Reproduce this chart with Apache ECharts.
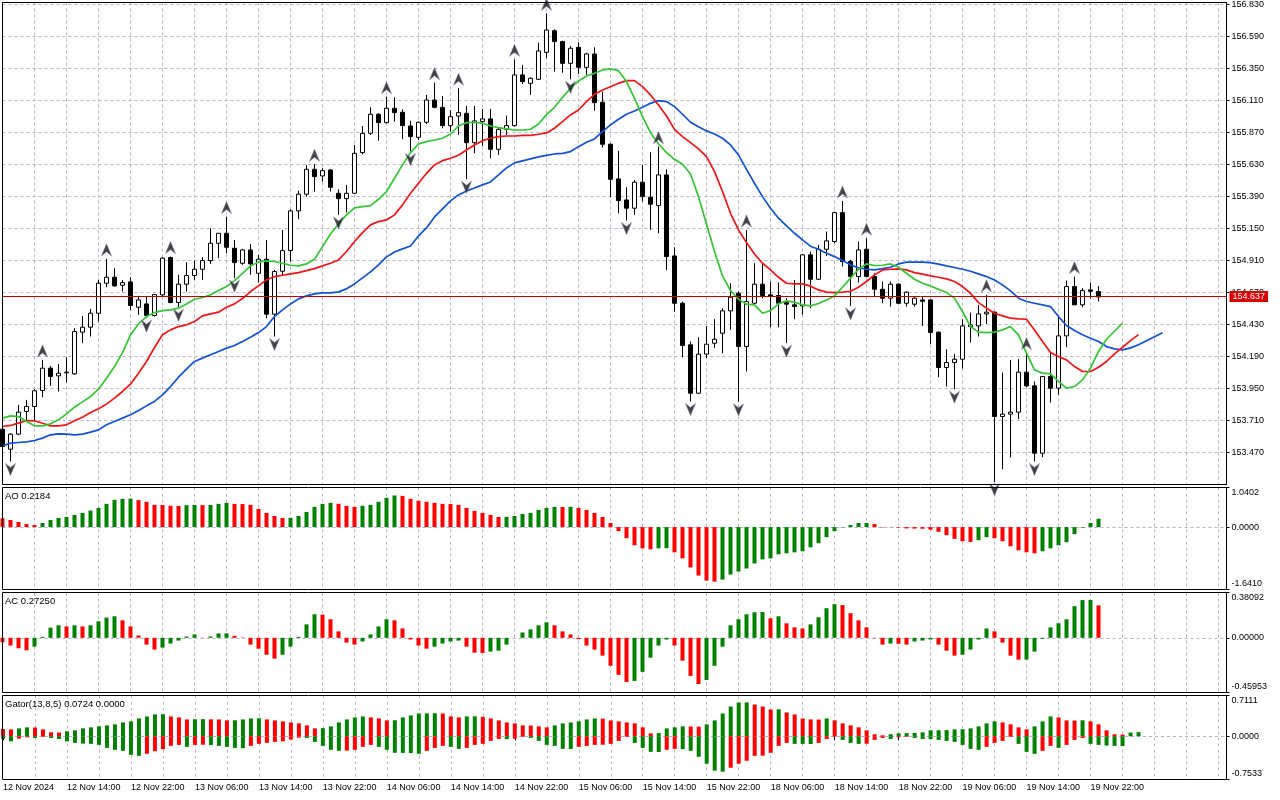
<!DOCTYPE html>
<html><head><meta charset="utf-8">
<script src="https://cdn.jsdelivr.net/npm/echarts@6/dist/echarts.min.js"></script>
<style>html,body{margin:0;padding:0;background:#fff}#chart{width:1280px;height:800px}</style>
</head><body><div id="chart"></div>
<script>
// ---------- DATA ----------
const timeLabels = ['12 Nov 2024','12 Nov 14:00','12 Nov 22:00','13 Nov 06:00','13 Nov 14:00','13 Nov 22:00','14 Nov 06:00','14 Nov 14:00','14 Nov 22:00','15 Nov 06:00','15 Nov 14:00','15 Nov 22:00','18 Nov 06:00','18 Nov 14:00','18 Nov 22:00','19 Nov 06:00','19 Nov 14:00','19 Nov 22:00'];
const slotCount = 154; // H1 bars incl. empty space on the right

const open = [153.645,153.495,153.608,153.778,153.815,153.935,154.103,154.045,154.068,154.060,
154.373,154.410,154.515,154.740,154.785,154.725,154.750,154.560,154.585,154.498,
154.653,154.933,154.595,154.733,154.798,154.845,154.910,155.040,155.115,155.003,
154.890,154.990,154.815,154.920,154.508,154.830,154.985,155.283,155.408,155.595,
155.545,155.590,155.415,155.375,155.415,155.720,155.865,156.008,155.945,156.053,
156.023,155.920,155.835,155.948,156.115,156.060,155.923,155.995,156.015,155.795,
155.953,155.973,155.745,155.895,155.923,156.303,156.240,156.270,156.473,156.635,
156.553,156.390,156.510,156.360,156.460,156.098,155.783,155.523,155.365,155.303,
155.498,155.385,155.323,155.553,154.945,154.590,154.278,153.915,154.208,154.290,
154.365,154.533,154.665,154.265,154.590,154.733,154.653,154.648,154.595,154.578,
154.570,154.953,154.770,154.995,155.053,155.270,154.903,154.790,154.995,154.790,
154.695,154.628,154.733,154.590,154.583,154.615,154.615,154.373,154.108,154.145,
154.170,154.415,154.420,154.510,154.523,153.740,153.758,153.773,154.073,153.970,
153.465,154.040,153.953,154.345,154.715,154.578,154.690,154.678];
const high = [153.670,153.615,153.828,153.865,153.945,154.165,154.120,154.135,154.185,154.403,
154.495,154.548,154.765,154.923,154.853,154.765,154.785,154.640,154.645,154.658,
154.935,154.940,154.803,154.898,154.910,154.935,155.153,155.115,155.240,155.065,
154.998,155.035,154.953,155.065,154.840,155.140,155.295,155.435,155.628,155.633,
155.603,155.595,155.445,155.478,155.778,155.920,156.060,156.015,156.140,156.135,
156.045,155.960,155.953,156.153,156.245,156.145,156.040,156.203,156.070,156.070,
156.048,156.048,155.903,155.998,156.420,156.378,156.285,156.545,156.765,156.645,
156.560,156.520,156.548,156.470,156.510,156.178,155.790,155.733,155.460,155.515,
155.628,155.723,155.765,155.595,155.010,154.603,154.303,154.335,154.420,154.470,
154.553,154.740,154.678,155.140,154.890,154.890,154.753,154.745,154.628,154.765,
154.960,154.978,155.028,155.128,155.278,155.358,154.915,155.053,155.078,154.815,
154.753,154.753,154.740,154.678,154.635,154.640,154.620,154.378,154.245,154.210,
154.470,154.520,154.578,154.653,154.528,154.070,154.165,154.170,154.220,154.003,
154.045,154.220,154.495,154.760,154.790,154.703,154.745,154.720];
const low = [153.500,153.403,153.600,153.710,153.715,153.885,153.970,153.928,153.995,154.053,
154.290,154.340,154.453,154.710,154.715,154.678,154.540,154.503,154.478,154.490,
154.645,154.590,154.560,154.678,154.765,154.765,154.885,154.928,154.965,154.778,
154.878,154.803,154.745,154.478,154.340,154.800,154.903,155.220,155.390,155.428,
155.503,155.428,155.253,155.270,155.410,155.708,155.853,155.810,155.940,155.953,
155.820,155.728,155.815,155.935,156.053,155.903,155.878,155.853,155.520,155.715,
155.770,155.678,155.703,155.853,155.915,156.235,156.153,156.265,156.428,156.328,
156.320,156.270,156.310,156.303,156.035,155.758,155.385,155.265,155.210,155.253,
155.353,155.140,155.115,154.840,154.528,154.185,153.853,153.910,154.178,154.253,
154.215,154.390,153.850,154.078,154.585,154.628,154.410,154.410,154.290,154.470,
154.503,154.553,154.765,154.945,155.040,154.865,154.570,154.745,154.785,154.640,
154.590,154.565,154.585,154.565,154.565,154.420,154.285,154.035,153.965,153.945,
154.100,154.295,154.340,154.435,153.250,153.345,153.433,153.720,153.960,153.403,
153.435,153.845,153.903,154.260,154.578,154.560,154.628,154.603];
const close = [153.515,153.608,153.773,153.815,153.933,154.103,154.040,154.065,154.073,154.378,
154.410,154.515,154.740,154.785,154.720,154.745,154.573,154.615,154.498,154.655,
154.928,154.595,154.733,154.798,154.845,154.910,155.040,155.115,155.010,154.895,
154.990,154.885,154.920,154.508,154.828,154.985,155.283,155.408,155.595,155.540,
155.585,155.460,155.375,155.415,155.715,155.865,156.008,155.945,156.053,156.020,
155.923,155.840,155.948,156.115,156.060,155.923,155.990,156.020,155.795,155.958,
155.973,155.745,155.895,155.923,156.303,156.253,156.278,156.483,156.640,156.553,
156.390,156.503,156.360,156.460,156.095,155.783,155.520,155.360,155.303,155.498,
155.390,155.333,155.553,154.940,154.590,154.273,153.915,154.208,154.283,154.320,
154.533,154.635,154.265,154.603,154.733,154.648,154.640,154.590,154.583,154.565,
154.953,154.770,154.995,155.058,155.270,154.903,154.790,154.990,154.790,154.695,
154.628,154.733,154.590,154.673,154.628,154.605,154.370,154.108,154.145,154.170,
154.420,154.428,154.510,154.523,153.740,153.758,153.773,154.073,153.970,153.465,
154.040,153.953,154.345,154.715,154.578,154.685,154.680,154.637];

const upFractals = [5,13,21,28,39,48,54,57,64,68,82,93,105,108,123,128,134];
const downFractals = [1,18,22,29,34,42,51,58,71,78,86,92,98,106,119,124,129];

// Alligator lines as drawn (already shifted forward 8 / 5 / 3 bars)
const jaw = [153.520,153.540,153.545,153.550,153.560,153.578,153.603,153.610,153.608,153.603,
153.608,153.623,153.640,153.678,153.703,153.728,153.753,153.785,153.820,153.853,
153.903,153.965,154.035,154.095,154.153,154.178,154.203,154.228,154.253,154.273,
154.303,154.335,154.370,154.415,154.490,154.540,154.585,154.623,154.645,154.660,
154.668,154.668,154.675,154.698,154.735,154.780,154.825,154.878,154.938,154.975,
154.998,155.020,155.095,155.155,155.238,155.298,155.358,155.403,155.433,155.455,
155.478,155.500,155.553,155.605,155.643,155.658,155.673,155.688,155.700,155.710,
155.715,155.728,155.765,155.798,155.823,155.878,155.928,155.970,156.008,156.033,
156.060,156.090,156.110,156.103,156.065,156.008,155.948,155.915,155.883,155.860,
155.828,155.778,155.703,155.595,155.490,155.390,155.303,155.228,155.170,155.115,
155.065,155.018,154.995,154.965,154.940,154.910,154.878,154.855,154.845,154.840,
154.850,154.860,154.885,154.898,154.898,154.898,154.895,154.883,154.870,154.858,
154.845,154.830,154.810,154.790,154.765,154.728,154.683,154.628,154.603,154.590,
154.578,154.565,154.490,154.423,154.385,154.353,154.328,154.303,154.265,154.248,
154.240,154.255,154.278,154.308,154.338,154.368];
const teeth = [153.665,153.673,153.690,153.710,153.708,153.690,153.670,153.670,153.678,153.708,
153.735,153.770,153.798,153.833,153.878,153.928,153.983,154.065,154.153,154.258,
154.353,154.390,154.415,154.428,154.453,154.495,154.510,154.523,154.560,154.585,
154.625,154.678,154.720,154.765,154.790,154.800,154.810,154.820,154.835,154.850,
154.870,154.890,154.915,154.978,155.053,155.120,155.178,155.203,155.215,155.253,
155.328,155.415,155.490,155.565,155.628,155.660,155.678,155.700,155.740,155.778,
155.810,155.828,155.840,155.845,155.845,155.850,155.850,155.858,155.868,155.903,
155.953,156.003,156.040,156.103,156.158,156.190,156.215,156.240,156.260,156.260,
156.215,156.153,156.078,155.995,155.895,155.840,155.795,155.748,155.690,155.578,
155.428,155.265,155.140,155.045,154.960,154.890,154.840,154.785,154.740,154.735,
154.735,154.718,154.690,154.673,154.670,154.673,154.680,154.710,154.753,154.803,
154.840,154.845,154.848,154.840,154.820,154.808,154.795,154.785,154.773,154.753,
154.715,154.665,154.595,154.553,154.515,154.495,154.478,154.473,154.470,154.390,
154.303,154.220,154.190,154.165,154.115,154.078,154.078,154.110,154.153,154.210,
154.260,154.310,154.355];
const lips = [153.728,153.745,153.740,153.703,153.670,153.670,153.685,153.715,153.760,153.810,
153.850,153.890,153.945,154.028,154.115,154.220,154.353,154.435,154.490,154.520,
154.535,154.540,154.553,154.585,154.620,154.633,154.653,154.685,154.715,154.760,
154.815,154.870,154.900,154.908,154.903,154.890,154.875,154.870,154.885,154.920,
155.015,155.110,155.185,155.253,155.305,155.315,155.323,155.370,155.428,155.528,
155.628,155.720,155.785,155.803,155.815,155.828,155.860,155.920,155.945,155.948,
155.940,155.920,155.908,155.898,155.890,155.890,155.895,155.935,156.005,156.060,
156.135,156.203,156.258,156.295,156.315,156.340,156.348,156.335,156.253,156.128,
155.990,155.870,155.785,155.720,155.670,155.633,155.560,155.390,155.185,154.978,
154.795,154.685,154.620,154.583,154.578,154.515,154.535,154.585,154.608,154.598,
154.578,154.570,154.588,154.615,154.645,154.710,154.778,154.845,154.885,154.873,
154.875,154.885,154.860,154.815,154.770,154.740,154.720,154.695,154.670,154.628,
154.528,154.415,154.373,154.370,154.373,154.390,154.415,154.353,154.215,154.090,
154.065,154.060,154.003,153.953,153.965,154.015,154.103,154.228,154.320,154.380,
154.440];

const ao = [0.230,0.186,0.133,0.080,0.053,0.106,0.186,0.239,0.266,0.319,
0.372,0.434,0.504,0.611,0.717,0.743,0.748,0.708,0.664,0.584,
0.580,0.560,0.555,0.575,0.580,0.577,0.581,0.610,0.637,0.610,
0.605,0.584,0.478,0.372,0.292,0.239,0.242,0.292,0.398,0.531,
0.611,0.637,0.611,0.558,0.531,0.560,0.584,0.664,0.770,0.830,
0.820,0.743,0.690,0.664,0.637,0.611,0.605,0.584,0.504,0.425,
0.372,0.319,0.266,0.270,0.292,0.345,0.372,0.451,0.504,0.531,
0.528,0.533,0.504,0.451,0.372,0.266,0.106,-0.106,-0.292,-0.478,
-0.558,-0.584,-0.558,-0.555,-0.664,-0.823,-1.062,-1.274,-1.407,-1.434,
-1.381,-1.248,-1.168,-1.089,-0.956,-0.850,-0.823,-0.717,-0.690,-0.664,
-0.637,-0.531,-0.425,-0.266,-0.106,-0.010,0.053,0.106,0.108,0.080,
-0.010,-0.005,-0.015,-0.035,-0.040,-0.044,-0.071,-0.124,-0.212,-0.310,
-0.372,-0.390,-0.345,-0.266,-0.292,-0.372,-0.504,-0.611,-0.664,-0.690,
-0.637,-0.558,-0.478,-0.398,-0.186,-0.015,0.106,0.2184];
const ac = [-0.037,-0.065,-0.088,-0.105,-0.074,0.008,0.085,0.105,0.096,0.105,
0.096,0.105,0.139,0.170,0.181,0.147,0.096,0.020,-0.057,-0.099,
-0.082,-0.048,-0.023,0.011,0.028,0.002,0.011,0.037,0.038,0.017,
0.003,-0.057,-0.091,-0.142,-0.175,-0.142,-0.074,0.008,0.113,0.198,
0.195,0.156,0.054,-0.040,-0.057,-0.031,0.028,0.096,0.156,0.147,
0.079,-0.014,-0.065,-0.091,-0.074,-0.048,-0.031,-0.023,-0.074,-0.125,
-0.127,-0.116,-0.108,-0.057,0.001,0.045,0.071,0.105,0.130,0.105,
0.054,0.028,-0.011,-0.065,-0.099,-0.150,-0.235,-0.311,-0.371,-0.362,
-0.286,-0.167,-0.065,-0.014,-0.065,-0.192,-0.320,-0.388,-0.354,-0.235,
-0.074,0.105,0.156,0.198,0.215,0.217,0.164,0.181,0.122,0.088,
0.079,0.113,0.173,0.249,0.283,0.275,0.207,0.147,0.088,-0.003,
-0.057,-0.048,-0.050,-0.057,-0.031,-0.023,-0.014,-0.057,-0.108,-0.150,
-0.142,-0.099,-0.014,0.079,0.054,-0.040,-0.150,-0.184,-0.183,-0.116,
-0.008,0.088,0.122,0.156,0.266,0.317,0.318,0.2725];
const gatorUp = [0.127,0.121,0.138,0.156,0.153,0.121,0.069,0.066,0.087,0.104,
0.138,0.156,0.173,0.190,0.208,0.242,0.260,0.311,0.346,0.381,
0.384,0.346,0.329,0.294,0.297,0.299,0.295,0.293,0.277,0.279,
0.294,0.311,0.314,0.294,0.277,0.260,0.242,0.225,0.190,0.138,
0.142,0.173,0.242,0.294,0.329,0.346,0.329,0.311,0.277,0.280,
0.329,0.363,0.398,0.400,0.402,0.398,0.346,0.329,0.346,0.348,
0.340,0.311,0.277,0.242,0.225,0.190,0.187,0.173,0.156,0.190,
0.225,0.242,0.260,0.294,0.311,0.308,0.277,0.260,0.242,0.225,
0.156,0.052,0.055,0.138,0.156,0.173,0.170,0.168,0.208,0.277,
0.398,0.519,0.588,0.591,0.554,0.519,0.467,0.470,0.415,0.381,
0.311,0.294,0.292,0.311,0.277,0.225,0.190,0.156,0.104,0.035,
0.017,0.035,0.052,0.055,0.057,0.069,0.104,0.106,0.108,0.121,
0.123,0.138,0.173,0.225,0.260,0.242,0.208,0.156,0.121,0.173,
0.260,0.346,0.329,0.277,0.274,0.279,0.260,0.208,0.104,0.035,
0.030,0.066,0.0724];
const gatorDown = [-0.041,-0.087,-0.041,-0.017,-0.029,-0.011,-0.029,-0.046,-0.087,-0.115,
-0.127,-0.132,-0.150,-0.202,-0.236,-0.253,-0.323,-0.340,-0.305,-0.260,
-0.225,-0.167,-0.150,-0.184,-0.150,-0.147,-0.151,-0.167,-0.184,-0.202,
-0.208,-0.167,-0.132,-0.115,-0.098,-0.087,-0.058,-0.024,-0.029,-0.098,
-0.167,-0.236,-0.253,-0.250,-0.236,-0.184,-0.150,-0.184,-0.236,-0.288,
-0.290,-0.292,-0.305,-0.253,-0.202,-0.167,-0.184,-0.219,-0.202,-0.150,
-0.132,-0.080,-0.046,-0.049,-0.041,-0.011,-0.029,-0.080,-0.150,-0.167,
-0.219,-0.222,-0.184,-0.167,-0.150,-0.147,-0.132,-0.080,-0.011,-0.115,
-0.202,-0.271,-0.274,-0.236,-0.219,-0.225,-0.253,-0.357,-0.478,-0.599,
-0.617,-0.548,-0.478,-0.426,-0.340,-0.337,-0.288,-0.167,-0.115,-0.132,
-0.133,-0.135,-0.115,-0.046,-0.005,-0.063,-0.115,-0.132,-0.130,-0.063,
-0.029,-0.046,-0.017,-0.011,-0.029,-0.046,-0.049,-0.063,-0.080,-0.098,
-0.150,-0.219,-0.236,-0.184,-0.115,-0.080,-0.011,-0.132,-0.271,-0.305,
-0.253,-0.167,-0.202,-0.150,-0.063,-0.029,-0.132,-0.150,-0.162,-0.167,
-0.170];

// axis ranges shown on the price scales
const priceMin = 153.230, priceMax = 156.8465, priceStep = 0.24;
const aoMin = -1.641, aoMax = 1.0402;
const acMin = -0.45953, acMax = 0.38092;
const gMin = -0.7533, gMax = 0.7111;

// ---------- LAYOUT / STYLE ----------
const FONT = 'Liberation Sans';
const GREEN = '#008000', RED = '#ff0000';
const LEFT = 2.5, WIDTH = 1224;
const panes = [
  {top: 2.5, height: 482},
  {top: 487.5, height: 102},
  {top: 592.5, height: 100},
  {top: 695.5, height: 84}
];
const cats = Array.from({length: slotCount}, (_, i) => String(i));
const gridDash = {color: '#c6b2c8', width: 1, type: [3, 3]};

function colored(vals, firstColor, useAbs) {
  return vals.map((v, i) => {
    let c = firstColor;
    if (i > 0) {
      const a = useAbs ? Math.abs(v) : v, b = useAbs ? Math.abs(vals[i - 1]) : vals[i - 1];
      c = a > b ? GREEN : RED;
    }
    return {value: v, itemStyle: {color: c}};
  });
}
function edgeFmt(dec, mn, mx) {
  return v => {
    const s = v.toFixed(dec);
    if (Math.abs(v - mx) < 1e-7) return '{t|' + s + '}';
    if (Math.abs(v - mn) < 1e-7) return '{b|' + s + '}';
    return s;
  };
}
const labRich = {
  t: {padding: [10, 0, 0, 0], fontSize: 9, fontFamily: FONT, color: '#000'},
  b: {padding: [0, 0, 11, 0], fontSize: 9, fontFamily: FONT, color: '#000'}
};

const xAxes = panes.map((p, k) => ({
  type: 'category', gridIndex: k, data: cats, boundaryGap: false,
  axisLine: {show: false},
  axisTick: {show: k === 3, interval: (i) => i % 8 === 0 && i < open.length, length: 4, lineStyle: {color: '#000'}},
  axisLabel: {show: k === 3, interval: (i) => i % 8 === 0 && i < open.length, align: 'left', margin: 4,
    fontSize: 9, fontFamily: FONT, color: '#000',
    formatter: (v, i) => timeLabels[Math.round(Number(v) / 8)] || ''},
  splitLine: {show: true, interval: (i) => i % 4 === 0 && i > 0, lineStyle: gridDash}
}));

const yCommon = (k) => ({
  type: 'value', gridIndex: k, position: 'right', scale: true,
  axisLine: {show: true, lineStyle: {color: '#000', width: 1}},
  axisTick: {show: true, length: 3, lineStyle: {color: '#000'}},
  splitLine: {show: true, showMinLine: false, showMaxLine: false, lineStyle: {color: '#b4b4c4', width: 1, type: [3, 3]}}
});
const yAxes = [
  Object.assign(yCommon(0), {min: priceMin, max: priceMax, interval: priceStep,
    axisLabel: {margin: 5, fontSize: 9, fontFamily: FONT, color: '#000', showMinLabel: false, showMaxLabel: false,
      formatter: v => v.toFixed(3)}}),
  Object.assign(yCommon(1), {min: aoMin, max: aoMax, interval: -aoMin,
    axisLabel: {margin: 5, fontSize: 9, fontFamily: FONT, color: '#000', showMinLabel: true, showMaxLabel: true,
      formatter: edgeFmt(4, aoMin, aoMax), rich: labRich}}),
  Object.assign(yCommon(2), {min: acMin, max: acMax, interval: -acMin,
    axisLabel: {margin: 5, fontSize: 9, fontFamily: FONT, color: '#000', showMinLabel: true, showMaxLabel: true,
      formatter: edgeFmt(5, acMin, acMax), rich: labRich}}),
  Object.assign(yCommon(3), {min: gMin, max: gMax, interval: -gMin,
    axisLabel: {margin: 5, fontSize: 9, fontFamily: FONT, color: '#000', showMinLabel: true, showMaxLabel: true,
      formatter: edgeFmt(4, gMin, gMax), rich: labRich}})
];

const lastClose = close[close.length - 1];
const upPath = 'path://M5,0 L10,12 L5,8 L0,12 Z';
const downPath = 'path://M0,0 L5,4 L10,0 L5,12 Z';

const titleStyle = {fontSize: 9.5, fontWeight: 'normal', fontFamily: FONT, color: '#000'};
const option = {
  animation: false,
  backgroundColor: '#ffffff',
  textStyle: {fontFamily: FONT},
  title: [
    {text: 'AO ' + ao[ao.length - 1].toFixed(4), left: 5, top: panes[1].top + 3.5, padding: 0, textStyle: titleStyle},
    {text: 'AC ' + ac[ac.length - 1].toFixed(5), left: 5, top: panes[2].top + 3.5, padding: 0, textStyle: titleStyle},
    {text: 'Gator(13,8,5) ' + gatorUp[gatorUp.length - 1].toFixed(4) + ' 0.0000', left: 5, top: panes[3].top + 3.5, padding: 0, textStyle: titleStyle}
  ],
  grid: panes.map(p => ({left: LEFT, width: WIDTH, top: p.top, height: p.height, show: false})),
  xAxis: xAxes,
  yAxis: yAxes,
  graphic: {elements: panes.map(p => ({
    type: 'rect', silent: true, z: 100,
    shape: {x: LEFT, y: p.top, width: WIDTH, height: p.height},
    style: {fill: 'none', stroke: '#000', lineWidth: 1}
  }))},
  series: [
    {
      type: 'candlestick', xAxisIndex: 0, yAxisIndex: 0, barWidth: 5, z: 2,
      data: open.map((o, i) => [o, close[i], low[i], high[i]]),
      itemStyle: {color: '#ffffff', color0: '#000000', borderColor: '#000000', borderColor0: '#000000', borderWidth: 1},
      emphasis: {disabled: true},
      markLine: {
        silent: true, symbol: 'none', animation: false,
        data: [{yAxis: lastClose}],
        lineStyle: {color: '#b80000', width: 1, type: 'solid'},
        label: {show: true, position: 'end', distance: 3, formatter: lastClose.toFixed(3),
          backgroundColor: '#d80000', color: '#ffffff', fontSize: 9, fontFamily: FONT,
          lineHeight: 10, padding: [1, 3, 0, 3]}
      }
    },
    {type: 'line', xAxisIndex: 0, yAxisIndex: 0, data: jaw, showSymbol: false, symbol: 'none', z: 3,
      lineStyle: {color: '#1250d4', width: 1.7}, emphasis: {disabled: true}},
    {type: 'line', xAxisIndex: 0, yAxisIndex: 0, data: teeth, showSymbol: false, symbol: 'none', z: 3,
      lineStyle: {color: '#f21414', width: 1.7}, emphasis: {disabled: true}},
    {type: 'line', xAxisIndex: 0, yAxisIndex: 0, data: lips, showSymbol: false, symbol: 'none', z: 3,
      lineStyle: {color: '#34c434', width: 1.7}, emphasis: {disabled: true}},
    {type: 'scatter', xAxisIndex: 0, yAxisIndex: 0, z: 5,
      data: upFractals.map(i => [i, high[i]]),
      symbol: upPath, symbolSize: [10, 12], symbolOffset: [0, -9],
      itemStyle: {color: '#141414', borderColor: '#7c7c98', borderWidth: 0.7}, emphasis: {disabled: true}},
    {type: 'scatter', xAxisIndex: 0, yAxisIndex: 0, z: 5,
      data: downFractals.map(i => [i, low[i]]),
      symbol: downPath, symbolSize: [10, 12], symbolOffset: [0, 8],
      itemStyle: {color: '#141414', borderColor: '#7c7c98', borderWidth: 0.7}, emphasis: {disabled: true}},
    {type: 'bar', xAxisIndex: 1, yAxisIndex: 1, barWidth: 4, data: colored(ao, RED, false), emphasis: {disabled: true}},
    {type: 'bar', xAxisIndex: 2, yAxisIndex: 2, barWidth: 4, data: colored(ac, RED, false), emphasis: {disabled: true}},
    {type: 'bar', xAxisIndex: 3, yAxisIndex: 3, barWidth: 4, stack: 'gator', data: colored(gatorUp, RED, false), emphasis: {disabled: true}},
    {type: 'bar', xAxisIndex: 3, yAxisIndex: 3, barWidth: 4, stack: 'gator', data: colored(gatorDown, GREEN, true), emphasis: {disabled: true}}
  ]
};
const chart = echarts.init(document.getElementById('chart'), null, {renderer: 'canvas'});
chart.setOption(option);
</script></body></html>
